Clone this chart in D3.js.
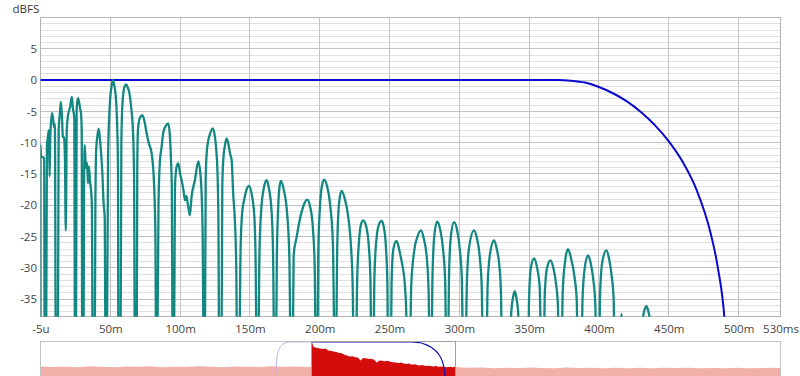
<!DOCTYPE html>
<html>
<head>
<meta charset="utf-8">
<script src="https://cdn.jsdelivr.net/npm/d3@7"></script>
<style>
  body { margin: 0; background: #fff; }
  svg { display: block; font-family: "Open Sans", sans-serif; }
</style>
</head>
<body>
<svg id="chart" width="800" height="376"></svg>
<script>
// eixo do tempo em ms, eixo vertical em dBFS
const xTicks = [-0.005, 50, 100, 150, 200, 250, 300, 350, 400, 450, 500, 530];
const xTickLabels = ["-5u", "50m", "100m", "150m", "200m", "250m", "300m", "350m", "400m", "450m", "500m", "530ms"];
const yTicks = [5, 0, -5, -10, -15, -20, -25, -30, -35];

// curva ETC (ms, dB); -45 = vale abaixo do limite inferior
const etcPoints = [
  [-0.005, -45], [0.0, -10.4], [0.3, -12.2], [1.5, -12.3], [2.6, -12.5], [3.0, -45],
  [4.0, -45], [4.6, -10.5], [5.3, -9.1], [6.0, -8.0], [6.5, -15.4], [7.0, -9], [8.2, -5.3], [9.0, -6.2], [9.7, -7.5], [10.3, -7.0], [11.0, -45],
  [12.4, -45], [13.0, -8], [13.8, -5.5], [14.6, -3.5], [15.4, -6], [16.0, -9], [16.8, -9.2], [17.5, -12.5], [18.1, -24], [18.8, -8], [19.8, -5.5], [21.3, -4.2], [22.4, -2.7], [23.2, -4.5], [24.2, -6], [24.7, -45],
  [25.4, -45], [25.9, -4.5], [26.8, -2.9], [27.6, -3.5], [28.4, -4.6], [29.0, -5.3], [29.5, -8], [29.9, -45],
  [30.8, -45], [31.2, -16], [31.7, -10.4], [32.5, -14], [33.3, -13.2], [34.0, -16.5], [34.7, -13.8], [35.4, -16], [36.2, -17.6], [36.8, -20], [37.4, -45],
  [38.8, -45], [39.3, -20], [39.9, -11], [41.0, -8.5], [41.7, -7.8], [42.6, -9.5], [43.5, -12], [44.2, -14.4], [45.2, -19.7], [46.0, -22], [46.6, -45],
  [47.5, -45], [48.4, -12], [49.7, -3.7], [51.0, -0.8], [51.9, 0], [52.8, -0.8], [54.2, -3.5], [55.0, -8], [55.5, -14], [55.8, -45],
  [57.3, -45], [57.9, -10], [58.7, -3.7], [60.0, -1.2], [61.3, -0.7], [62.5, -1.2], [63.6, -2.0], [65.0, -4.5], [66.2, -8], [67.0, -15], [67.6, -45],
  [68.9, -45], [69.3, -14], [69.8, -8], [71.2, -6], [72.9, -5.6], [74.5, -6.6], [76.0, -8.5], [77.5, -10], [79.6, -11.7], [81.3, -16.5], [82.3, -25], [82.8, -45],
  [83.6, -45], [84.5, -20], [85.5, -13], [86.8, -10.6], [87.9, -8.4], [89.8, -7.3], [91.5, -6.9], [92.7, -9], [93.5, -13], [94.0, -16.5], [94.7, -45],
  [95.6, -45], [96.3, -17], [97.5, -13.8], [98.7, -13.3], [100, -15], [101.1, -16], [102.3, -17.5], [103.5, -19.2], [104.5, -18.5], [105.8, -20.2], [107.0, -21.6], [108.2, -18.6], [110.6, -16], [113.0, -13], [114.7, -15.4], [116.1, -24], [116.9, -45],
  [117.7, -45], [118.3, -16], [119.0, -11.7], [120.3, -9.5], [121.4, -8.6], [123.3, -7.7], [124.9, -9], [126.0, -11.5], [126.6, -13.8], [127.4, -22], [128.0, -45],
  [129.6, -45], [130.2, -17], [130.9, -12.8], [132.1, -10.4], [133.3, -9.3], [134.6, -10.2], [135.7, -11.7], [136.9, -12.8], [138.0, -18.1], [139.3, -22.9], [140.2, -30], [140.9, -45],
  [142.3, -45], [143.3, -27], [144.5, -21], [146.0, -19], [147.6, -17.5], [149.3, -16.9], [151.5, -18.5], [153.2, -22], [154.0, -28], [154.9, -45],
  [155.9, -45], [156.8, -28], [158.0, -21], [160.0, -17.2], [162.0, -16], [163.6, -17.3], [165.5, -21], [166.6, -28], [167.4, -45],
  [168.6, -45], [169.3, -28], [170.3, -20], [171.2, -17], [172.2, -16.1], [174.2, -17.5], [176.5, -21], [178.2, -28], [179.3, -45],
  [180.6, -45], [181.3, -28], [183.5, -25], [186.0, -22], [188.5, -20], [191.0, -19.1], [193.2, -20.3], [195.2, -24], [196.4, -30], [197.2, -45],
  [198.2, -45], [199.0, -27], [200.2, -20], [201.5, -17], [203.2, -15.9], [205.3, -17], [207.5, -20], [209.4, -26], [210.8, -45],
  [211.6, -45], [212.5, -27], [213.7, -20], [215.6, -17.7], [218.0, -19], [220.5, -22], [222.5, -27], [223.6, -33], [224.4, -45],
  [225.9, -45], [226.8, -32], [228.2, -25.5], [229.6, -23], [231.1, -22.4], [233.2, -23.3], [235.3, -27], [236.3, -32], [237.1, -45],
  [238.3, -45], [239.2, -31], [240.8, -25], [242.5, -23], [244.3, -22.5], [246.0, -23.6], [247.5, -27], [248.4, -32], [249.0, -45],
  [250.9, -45], [251.5, -32], [252.7, -27], [255.0, -25.7], [257.3, -27.5], [259.5, -30], [260.5, -31.5], [261.8, -36], [262.9, -45],
  [264.5, -45], [265.5, -33], [267.5, -27.5], [270.0, -25], [272.4, -24], [274.5, -25.3], [276.7, -28.5], [278.0, -34], [278.9, -45],
  [280.0, -45], [280.7, -32], [282.0, -25], [284.1, -22.6], [286.2, -23.8], [288.3, -27], [289.8, -32], [290.8, -45],
  [291.9, -45], [292.6, -31], [293.9, -25], [296.2, -22.7], [298.4, -24], [300.5, -27.5], [301.8, -32], [302.7, -45],
  [304.4, -45], [305.3, -33], [306.8, -27], [310.5, -24], [312.5, -25.2], [314.7, -28.5], [316.0, -33], [317.0, -45],
  [319.4, -45], [320.2, -33], [321.8, -28], [324.9, -25.6], [326.8, -27], [328.8, -30], [329.8, -34], [330.6, -45],
  [336.1, -45], [337.2, -37], [338.6, -34.5], [339.7, -33.7], [340.7, -34.6], [342.2, -37.5], [343.3, -45],
  [349.2, -45], [349.9, -35], [351.2, -30], [353.5, -28.5], [355.5, -29.8], [357.5, -33], [358.8, -45],
  [360.4, -45], [361.2, -34], [362.8, -30], [365.2, -28.8], [367.3, -30], [369.5, -33], [370.6, -36], [371.4, -45],
  [373.1, -45], [374.0, -34], [375.7, -29], [377.8, -27], [380.0, -28.5], [382.5, -31.5], [384.0, -35], [385.0, -45],
  [387.4, -45], [388.2, -35], [389.8, -30], [392.2, -28], [394.0, -29.2], [396.0, -32], [397.4, -36], [398.2, -45],
  [400.0, -45], [400.8, -34], [402.4, -29], [405.3, -27.2], [407.2, -28.5], [409.2, -31.5], [410.5, -35], [411.3, -45],
  [415.6, -45], [416.1, -37.3], [416.6, -45],
  [430.4, -45], [431.5, -38], [432.8, -36.6], [434.0, -36.1], [435.2, -36.8], [436.5, -38.5], [437.8, -45],
  [530, -45]
];

// janela (ms, dB)
const windowPoints = [
  [-135, -50], [-132, -30], [-128, -18], [-122, -10], [-115, -5.5], [-105, -2.5], [-95, -0.9], [-85, -0.2], [-78, 0],
  [370, 0], [380, -0.1], [390, -0.4], [400, -1.1], [410, -2.1], [420, -3.4], [430, -5.1], [440, -7.2], [450, -9.8],
  [460, -13.1], [470, -17.6], [480, -24.5], [485, -29.8], [490, -38.5], [494, -55]
];

// resposta completa no painel de baixo (ms, dB)
const overviewPoints = [
  [-1006, -34.5], [-960, -35.2], [-915, -34.8], [-870, -35.5], [-825, -34.2], [-780, -35.0], [-735, -35.8], [-690, -34.6],
  [-645, -35.1], [-600, -34.4], [-555, -35.6], [-510, -34.9], [-465, -35.3], [-420, -34.1], [-375, -35.0], [-330, -35.7],
  [-285, -34.5], [-240, -34.9], [-195, -35.4], [-150, -34.3], [-105, -35.1], [-60, -34.7], [-15, -35.3], [-1, -34.8],
  [0, -0.5], [3, -4], [6, -7], [10, -7.5], [20, -8.5], [30, -9], [40, -10], [50, -9], [60, -12], [70, -12.5], [80, -13.5],
  [90, -14], [100, -15.5], [110, -16], [120, -18], [130, -19], [140, -20.5], [150, -20], [160, -21.5], [170, -22],
  [180, -26], [190, -22.5], [200, -23], [210, -24], [220, -23.5], [230, -25], [240, -29], [250, -26], [260, -26.5],
  [270, -27], [280, -26.5], [290, -28], [300, -28.5], [310, -29], [320, -29.5], [330, -29], [340, -30.5], [350, -31],
  [360, -30.5], [370, -32], [380, -31.5], [390, -32.5], [400, -33], [410, -32.5], [420, -34], [430, -33.5], [440, -34],
  [450, -34.5], [460, -34], [470, -35], [480, -34.5], [490, -35], [500, -35.5], [510, -35], [520, -35.5], [530, -35],
  [540, -35.8], [585, -36.5], [630, -36.0], [675, -37.0], [720, -36.2], [765, -36.8], [810, -35.9], [855, -36.6],
  [900, -37.2], [945, -36.1], [990, -36.7], [1035, -36.3], [1080, -37.0], [1125, -36.4], [1170, -36.9], [1215, -36.2],
  [1260, -37.1], [1305, -36.5], [1350, -36.8], [1395, -36.3], [1440, -37.0], [1485, -36.6], [1530, -36.9], [1575, -36.4],
  [1620, -37.1], [1665, -36.7], [1710, -36.5], [1736, -36.8]
];

const svg = d3.select('#chart');

const x = d3.scaleLinear().domain([-0.005, 530]).range([40.5, 780.5]);
const y = d3.scaleLinear().domain([-37.8, 10]).range([316.7, 17.5]);

// grade
const grid = svg.append('g').attr('shape-rendering', 'crispEdges');
grid.selectAll('line.minor')
  .data(d3.range(-37, 10, 1).filter(v => v % 5 !== 0))
  .join('line')
  .attr('x1', x.range()[0]).attr('x2', x.range()[1])
  .attr('y1', d => y(d)).attr('y2', d => y(d))
  .attr('stroke', '#e0e0e0');
grid.selectAll('line.major')
  .data(yTicks)
  .join('line')
  .attr('x1', x.range()[0]).attr('x2', x.range()[1])
  .attr('y1', d => y(d)).attr('y2', d => y(d))
  .attr('stroke', '#c2c2c2');
grid.selectAll('line.vert')
  .data(xTicks.slice(1, -1))
  .join('line')
  .attr('x1', d => x(d)).attr('x2', d => x(d))
  .attr('y1', y.range()[0]).attr('y2', y.range()[1])
  .attr('stroke', '#c2c2c2');
grid.append('rect')
  .attr('x', x.range()[0]).attr('y', y.range()[1])
  .attr('width', x.range()[1] - x.range()[0]).attr('height', y.range()[0] - y.range()[1])
  .attr('fill', 'none').attr('stroke', '#b4b4b4');

svg.append('clipPath').attr('id', 'plotClip')
  .append('rect')
  .attr('x', x.range()[0]).attr('y', y.range()[1])
  .attr('width', x.range()[1] - x.range()[0]).attr('height', y.range()[0] - y.range()[1]);

const plot = svg.append('g').attr('clip-path', 'url(#plotClip)');

const line = d3.line()
  .x(d => x(d[0]))
  .y(d => y(d[1]))
  .curve(d3.curveMonotoneX);

plot.append('path')
  .datum(windowPoints)
  .attr('d', line)
  .attr('fill', 'none')
  .attr('stroke', '#0a0acd')
  .attr('stroke-width', 2);

plot.append('path')
  .datum(etcPoints)
  .attr('d', line)
  .attr('fill', 'none')
  .attr('stroke', '#138781')
  .attr('stroke-width', 2.3)
  .attr('stroke-linejoin', 'round');

// eixos
const xAxis = svg.append('g')
  .attr('transform', `translate(0,${y.range()[0]})`)
  .call(d3.axisBottom(x).tickValues(xTicks).tickFormat((d, i) => xTickLabels[i]).tickSize(0).tickPadding(8.5));
const yAxis = svg.append('g')
  .attr('transform', `translate(${x.range()[0]},0)`)
  .call(d3.axisLeft(y).tickValues(yTicks).tickFormat(d => d).tickSize(0).tickPadding(3.5));
[xAxis, yAxis].forEach(a => {
  a.select('.domain').remove();
  a.selectAll('text').attr('fill', '#444').style('font-size', '11.5px').style('font-family', '"Open Sans", sans-serif');
});

svg.append('text')
  .attr('x', 12.5).attr('y', 13)
  .attr('fill', '#333')
  .style('font-size', '11.5px')
  .text('dBFS');

// painel de visão geral
const ox = d3.scaleLinear().domain([-1006, 1736]).range([40.5, 780.5]);
const oy = d3.scaleLinear().domain([-48, 0]).range([376, 342]);

svg.append('clipPath').attr('id', 'ovClip')
  .append('rect').attr('x', 40.5).attr('y', 341.5).attr('width', 740).attr('height', 40);
svg.append('clipPath').attr('id', 'selClip')
  .append('rect').attr('x', ox(-0.005)).attr('y', 341.5).attr('width', ox(530) - ox(-0.005)).attr('height', 40);

const ov = svg.append('g').attr('clip-path', 'url(#ovClip)');
const area = d3.area()
  .x(d => ox(d[0]))
  .y0(oy(-48))
  .y1(d => oy(d[1]));

ov.append('path').datum(overviewPoints).attr('d', area).attr('fill', '#f1b0aa');

const ovLine = d3.line().x(d => ox(d[0])).y(d => oy(d[1])).curve(d3.curveMonotoneX);
ov.append('path').datum(windowPoints).attr('d', ovLine)
  .attr('fill', 'none').attr('stroke', '#b4b4f0').attr('stroke-width', 1);

const sel = svg.append('g').attr('clip-path', 'url(#selClip)');
sel.append('rect')
  .attr('x', ox(-0.005)).attr('y', 341.5)
  .attr('width', ox(530) - ox(-0.005)).attr('height', 40)
  .attr('fill', '#fff');
sel.append('path').datum(overviewPoints).attr('d', area).attr('fill', '#d40c0c');
sel.append('path').datum(windowPoints).attr('d', ovLine)
  .attr('fill', 'none').attr('stroke', '#1212b4').attr('stroke-width', 1.2);

const frame = svg.append('g').attr('shape-rendering', 'crispEdges').attr('fill', 'none');
frame.append('rect')
  .attr('x', 40.5).attr('y', 341.5).attr('width', 740).attr('height', 40)
  .attr('stroke', '#c4c4c4');
frame.append('rect')
  .attr('x', ox(-0.005)).attr('y', 341.5)
  .attr('width', ox(530) - ox(-0.005)).attr('height', 40)
  .attr('stroke', '#a0a0a0');
</script>
</body>
</html>
